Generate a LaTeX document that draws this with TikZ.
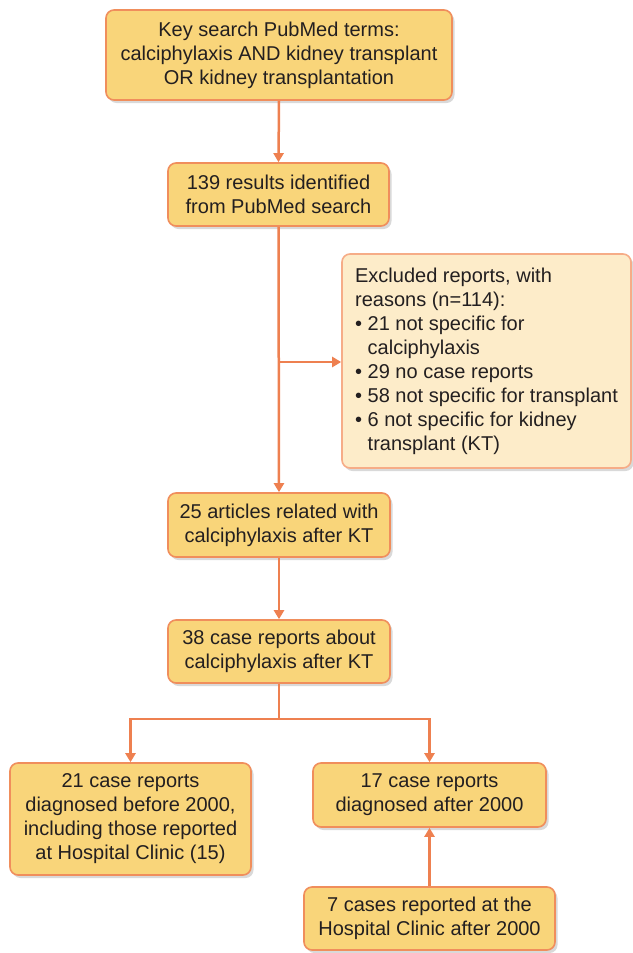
\documentclass[tikz,border=0pt]{standalone}
\usepackage{fontspec}
\setmainfont{Liberation Sans}
\usetikzlibrary{arrows.meta,shadows}
\definecolor{boxfill}{RGB}{249,213,122}
\definecolor{boxline}{RGB}{240,142,92}
\definecolor{exfill}{RGB}{253,236,201}
\definecolor{exline}{RGB}{246,172,135}
\definecolor{arrowc}{RGB}{238,128,80}
\definecolor{txt}{RGB}{35,31,32}
\tikzset{
  box/.style={draw=boxline, fill=boxfill, line width=1.6pt, rounded corners=8pt,
    align=center, text=txt, font=\fontsize{20}{24}\selectfont, inner sep=0pt,
    drop shadow={shadow xshift=2.5pt, shadow yshift=-3pt, opacity=0.25, fill=black!60}},
  exbox/.style={box, fill=exfill, draw=exline, align=left},
  conn/.style={draw=arrowc, line width=2.5pt},
  arr/.style={conn, -{Triangle[length=9pt,width=10pt]}},
}
\begin{document}
\begin{tikzpicture}[x=1pt,y=-1pt]
\useasboundingbox (0,0) rectangle (632,953);
\node[box, minimum width=346pt, minimum height=90pt] (top) at (279,55)
  {Key search PubMed terms:\\calciphylaxis AND kidney transplant\\OR kidney transplantation};
\node[box, minimum width=221pt, minimum height=63pt] (res) at (278.5,194.5)
  {139 results identified\\from PubMed search};
\node[exbox, minimum width=289pt, minimum height=214pt] (excl) at (486.5,361)
  {Excluded reports, with\\reasons (n=114):\\• 21 not specific for\\\phantom{• }calciphylaxis\\• 29 no case reports\\• 58 not specific for transplant\\• 6 not specific for kidney\\\phantom{• }transplant (KT)};
\node[box, minimum width=222pt, minimum height=64pt] (art) at (279,525)
  {25 articles related with\\calciphylaxis after KT};
\node[box, minimum width=222pt, minimum height=63pt] (cases) at (279,651.5)
  {38 case reports about\\calciphylaxis after KT};
\node[box, minimum width=241pt, minimum height=112pt] (before) at (130.5,819)
  {21 case reports\\diagnosed before 2000,\\including those reported\\at Hospital Clinic (15)};
\node[box, minimum width=233pt, minimum height=64pt] (after) at (429.5,795)
  {17 case reports\\diagnosed after 2000};
\node[box, minimum width=251pt, minimum height=63pt] (hc) at (429.5,918.5)
  {7 cases reported at the\\Hospital Clinic after 2000};
\coordinate (br) at (278.5,362);
\coordinate (sp) at (279,719);
\draw[arr] (top.south) -- (res.north);
\draw[arr] (res.south) -- (art.north);
\draw[arr] (br) -- (br -| excl.west);
\draw[arr] (art.south) -- (cases.north);
\draw[conn] (cases.south) -- (sp);
\draw[arr] (sp) -| (before.north);
\draw[arr] (sp) -| (after.north);
\draw[arr] (hc.north) -- (after.south);
\end{tikzpicture}
\end{document}
